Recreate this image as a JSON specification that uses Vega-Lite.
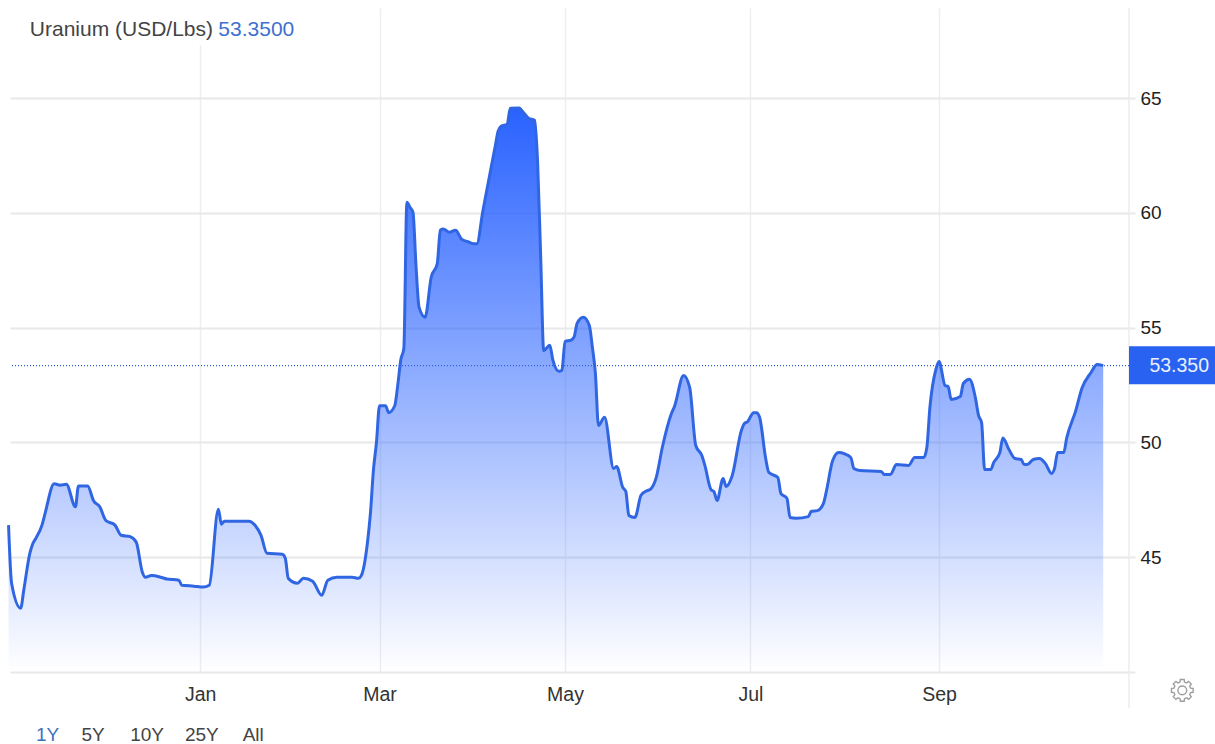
{
"$schema":"https://vega.github.io/schema/vega-lite/v6.json",
"width":1119,"height":664,
"autosize":{"type":"none"},
"padding":{"left":10,"top":8,"right":86,"bottom":72},
"background":"white",
"config":{"view":{"stroke":null},"font":"Liberation Sans"},
"datasets":{
"series":[
{"date":"2021-10-30","value":46.4},{"date":"2021-10-31","value":43.87},{"date":"2021-11-03","value":42.78},{"date":"2021-11-04","value":43.56},{"date":"2021-11-06","value":45.17},{"date":"2021-11-07","value":45.6},{"date":"2021-11-08","value":45.83},{"date":"2021-11-10","value":46.4},{"date":"2021-11-11","value":46.9},{"date":"2021-11-14","value":48.2},{"date":"2021-11-16","value":48.14},{"date":"2021-11-18","value":48.18},{"date":"2021-11-21","value":47.2},{"date":"2021-11-22","value":48.1},{"date":"2021-11-25","value":48.1},{"date":"2021-11-27","value":47.45},{"date":"2021-11-29","value":47.2},
{"date":"2021-12-01","value":46.6},{"date":"2021-12-04","value":46.4},{"date":"2021-12-06","value":45.96},{"date":"2021-12-09","value":45.9},{"date":"2021-12-11","value":45.65},{"date":"2021-12-13","value":44.35},{"date":"2021-12-14","value":44.13},{"date":"2021-12-16","value":44.2},{"date":"2021-12-19","value":44.13},{"date":"2021-12-21","value":44.05},{"date":"2021-12-25","value":44.0},{"date":"2021-12-26","value":43.78},{"date":"2021-12-30","value":43.74},
{"date":"2022-01-02","value":43.7},{"date":"2022-01-04","value":43.78},{"date":"2022-01-07","value":47.09},{"date":"2022-01-08","value":46.44},{"date":"2022-01-09","value":46.57},{"date":"2022-01-17","value":46.57},{"date":"2022-01-19","value":46.4},{"date":"2022-01-21","value":45.96},{"date":"2022-01-23","value":45.17},{"date":"2022-01-28","value":45.13},{"date":"2022-01-29","value":44.96},{"date":"2022-01-30","value":44.08},
{"date":"2022-02-02","value":43.87},{"date":"2022-02-04","value":44.08},{"date":"2022-02-07","value":43.95},{"date":"2022-02-10","value":43.34},{"date":"2022-02-12","value":44.0},{"date":"2022-02-15","value":44.13},{"date":"2022-02-20","value":44.13},{"date":"2022-02-22","value":44.08},{"date":"2022-02-23","value":44.2},{"date":"2022-02-25","value":45.6},{"date":"2022-02-26","value":46.9},{"date":"2022-02-27","value":48.8},
{"date":"2022-02-28","value":50.0},{"date":"2022-03-01","value":51.6},{"date":"2022-03-03","value":51.6},{"date":"2022-03-04","value":51.3},{"date":"2022-03-06","value":51.6},{"date":"2022-03-07","value":52.5},{"date":"2022-03-08","value":53.6},{"date":"2022-03-09","value":54.1},{"date":"2022-03-10","value":60.47},{"date":"2022-03-11","value":60.25},{"date":"2022-03-12","value":60.03},{"date":"2022-03-13","value":57.7},{"date":"2022-03-14","value":55.9},{"date":"2022-03-16","value":55.46},{"date":"2022-03-18","value":57.2},{"date":"2022-03-20","value":57.8},{"date":"2022-03-21","value":59.25},{"date":"2022-03-22","value":59.3},{"date":"2022-03-24","value":59.16},{"date":"2022-03-26","value":59.25},{"date":"2022-03-28","value":58.86},{"date":"2022-03-30","value":58.75},
{"date":"2022-04-01","value":58.66},{"date":"2022-04-02","value":58.66},{"date":"2022-04-04","value":60.1},{"date":"2022-04-08","value":62.87},{"date":"2022-04-09","value":63.56},{"date":"2022-04-10","value":63.78},{"date":"2022-04-12","value":63.87},{"date":"2022-04-13","value":64.56},{"date":"2022-04-16","value":64.57},{"date":"2022-04-17","value":64.43},{"date":"2022-04-19","value":64.13},{"date":"2022-04-21","value":64.04},{"date":"2022-04-22","value":62.17},{"date":"2022-04-23","value":58.1},{"date":"2022-04-24","value":54.0},{"date":"2022-04-26","value":54.24},{"date":"2022-04-27","value":53.6},{"date":"2022-04-29","value":53.1},{"date":"2022-04-30","value":53.15},
{"date":"2022-05-01","value":54.4},{"date":"2022-05-03","value":54.46},{"date":"2022-05-04","value":54.6},{"date":"2022-05-05","value":55.2},{"date":"2022-05-07","value":55.46},{"date":"2022-05-09","value":55.1},{"date":"2022-05-10","value":54.15},{"date":"2022-05-11","value":53.0},{"date":"2022-05-12","value":50.74},{"date":"2022-05-14","value":51.1},{"date":"2022-05-17","value":48.87},{"date":"2022-05-18","value":48.95},{"date":"2022-05-20","value":48.04},{"date":"2022-05-21","value":47.86},{"date":"2022-05-22","value":46.82},{"date":"2022-05-24","value":46.73},{"date":"2022-05-26","value":47.7},{"date":"2022-05-28","value":47.9},{"date":"2022-05-29","value":47.95},{"date":"2022-05-31","value":48.47},
{"date":"2022-06-02","value":49.78},{"date":"2022-06-05","value":51.26},{"date":"2022-06-06","value":51.57},{"date":"2022-06-09","value":52.92},{"date":"2022-06-11","value":52.4},{"date":"2022-06-13","value":49.87},{"date":"2022-06-15","value":49.43},{"date":"2022-06-16","value":49.0},{"date":"2022-06-18","value":47.95},{"date":"2022-06-19","value":47.86},{"date":"2022-06-20","value":47.47},{"date":"2022-06-22","value":48.43},{"date":"2022-06-23","value":48.08},{"date":"2022-06-25","value":48.56},{"date":"2022-06-28","value":50.52},{"date":"2022-06-29","value":50.83},{"date":"2022-06-30","value":50.9},
{"date":"2022-07-02","value":51.3},{"date":"2022-07-03","value":51.3},{"date":"2022-07-04","value":51.1},{"date":"2022-07-06","value":49.3},{"date":"2022-07-07","value":48.7},{"date":"2022-07-10","value":48.47},{"date":"2022-07-11","value":47.78},{"date":"2022-07-13","value":47.56},{"date":"2022-07-14","value":46.73},{"date":"2022-07-16","value":46.7},{"date":"2022-07-20","value":46.77},{"date":"2022-07-21","value":47.0},{"date":"2022-07-23","value":47.03},{"date":"2022-07-25","value":47.35},{"date":"2022-07-26","value":47.9},{"date":"2022-07-28","value":49.2},{"date":"2022-07-30","value":49.56},
{"date":"2022-08-01","value":49.5},{"date":"2022-08-03","value":49.34},{"date":"2022-08-04","value":48.87},{"date":"2022-08-06","value":48.78},{"date":"2022-08-13","value":48.74},{"date":"2022-08-14","value":48.6},{"date":"2022-08-16","value":48.6},{"date":"2022-08-18","value":49.04},{"date":"2022-08-22","value":49.0},{"date":"2022-08-24","value":49.35},{"date":"2022-08-27","value":49.35},{"date":"2022-08-28","value":49.78},{"date":"2022-08-29","value":51.53},{"date":"2022-08-31","value":53.2},
{"date":"2022-09-01","value":53.53},{"date":"2022-09-03","value":52.48},{"date":"2022-09-04","value":52.44},{"date":"2022-09-05","value":51.87},{"date":"2022-09-08","value":52.0},{"date":"2022-09-09","value":52.57},{"date":"2022-09-11","value":52.75},{"date":"2022-09-13","value":51.92},{"date":"2022-09-14","value":51.18},{"date":"2022-09-15","value":50.87},{"date":"2022-09-16","value":48.82},{"date":"2022-09-18","value":48.82},{"date":"2022-09-19","value":49.13},{"date":"2022-09-21","value":49.56},{"date":"2022-09-22","value":50.2},{"date":"2022-09-24","value":49.69},{"date":"2022-09-26","value":49.3},{"date":"2022-09-28","value":49.26},{"date":"2022-09-29","value":49.04},{"date":"2022-09-30","value":49.04},
{"date":"2022-10-02","value":49.26},{"date":"2022-10-04","value":49.3},{"date":"2022-10-06","value":49.08},{"date":"2022-10-08","value":48.65},{"date":"2022-10-09","value":48.87},{"date":"2022-10-10","value":49.56},{"date":"2022-10-12","value":49.56},{"date":"2022-10-13","value":50.2},{"date":"2022-10-16","value":51.4},{"date":"2022-10-18","value":52.36},{"date":"2022-10-21","value":53.05},{"date":"2022-10-23","value":53.4},{"date":"2022-10-25","value":53.35}
],
"ranges":[{"label":"1Y","date":"2021-11-08","active":"yes"},{"label":"5Y","date":"2021-11-23","active":"no"},{"label":"10Y","date":"2021-12-09","active":"no"},{"label":"25Y","date":"2021-12-27","active":"no"},{"label":"All","date":"2022-01-15","active":"no"}]
},
"data":{"name":"series"},
"layer":[
{"mark":{"type":"area","line":false,"interpolate":"monotone","color":{"gradient":"linear","x1":1,"y1":0,"x2":1,"y2":1,"stops":[{"offset":0,"color":"#2962ff"},{"offset":1,"color":"rgba(41,98,255,0)"}]}},
"encoding":{
"x":{"field":"date","type":"temporal","title":null,
"scale":{"type":"utc","nice":false,"domain":[1635593400000,1667388600000]},
"axis":{"orient":"bottom","values":[1640995200000,1646092800000,1651363200000,1656633600000,1661990400000],"labelExpr":"utcFormat(datum.value,'%b')","labelFontSize":19.5,"labelColor":"#333333","labelPadding":13,"labelFont":"Liberation Sans","labelOverlap":false,"tickSize":0,"domain":false,"grid":true,"gridColor":"#eeeeee","gridWidth":1.5,"labelFlush":false}},
"y":{"field":"value","type":"quantitative","title":null,
"scale":{"domain":[40,68.93],"zero":false,"nice":false},
"axis":{"orient":"right","values":[40,45,50,55,60,65],"labelExpr":"datum.value==40?'':datum.label","labelFontSize":19,"labelColor":"#222222","labelPadding":5,"labelFont":"Liberation Sans","tickSize":6,"tickColor":"#e8e8e8","tickWidth":2,"domain":false,"grid":true,"gridColor":"#e8e8e8","gridWidth":2}},
"y2":{"datum":40}
}},
{"mark":{"type":"line","color":"#3066e2","strokeWidth":3,"strokeJoin":"round","interpolate":"monotone"},"encoding":{"x":{"field":"date","type":"temporal"},"y":{"field":"value","type":"quantitative"}}},
{"data":{"values":[{"title":"Uranium (USD/Lbs)"}]},"mark":{"type":"rect","color":"white"},"encoding":{"x":{"datum":{"year":2021,"month":"dec","date":25,"utc":true},"type":"temporal"},"x2":{"datum":{"year":2022,"month":"jan","date":20,"utc":true}},"y":{"datum":68.93,"type":"quantitative"},"y2":{"datum":67.32}}},
{"data":{"values":[{"line":"last"}]},"mark":{"type":"rule","color":"#ececec","strokeWidth":1.5,"clip":false},"encoding":{"x":{"datum":1667388600000,"type":"temporal"},"y":{"datum":68.93,"type":"quantitative"},"y2":{"datum":38.43}}},
{"data":{"values":[{"line":"last"}]},"mark":{"type":"rule","color":"#2a5fd8","strokeWidth":1.2,"strokeDash":[1,2]},"encoding":{"y":{"datum":53.35,"type":"quantitative"}}},
{"data":{"values":[{"line":"last"}]},"mark":{"type":"rect","color":"#2962f0","clip":false},"encoding":{"x":{"datum":1667388600000,"type":"temporal"},"x2":{"datum":{"year":2022,"month":"dec","date":2,"utc":true}},"y":{"datum":54.19,"type":"quantitative"},"y2":{"datum":52.54}}},
{"data":{"values":[{"t":"53.350"}]},"mark":{"type":"text","color":"#e8efff","fontSize":19.5,"align":"center","baseline":"middle","clip":false},"encoding":{"text":{"field":"t"},"x":{"datum":{"year":2022,"month":"nov","date":19,"utc":true},"type":"temporal"},"y":{"datum":53.35,"type":"quantitative"}}},
{"data":{"values":[{"t":"Uranium (USD/Lbs)"}]},"mark":{"type":"text","color":"#444444","fontSize":21,"align":"left","baseline":"middle","dx":3},"encoding":{"text":{"field":"t"},"x":{"datum":{"year":2021,"month":"nov","date":5,"utc":true},"type":"temporal"},"y":{"datum":67.96,"type":"quantitative"}}},
{"data":{"values":[{"t":"53.3500"}]},"mark":{"type":"text","color":"#3f6fd0","fontSize":21,"align":"left","baseline":"middle"},"encoding":{"text":{"field":"t"},"x":{"datum":{"year":2022,"month":"jan","date":7,"utc":true},"type":"temporal"},"y":{"datum":67.96,"type":"quantitative"}}},
{"data":{"name":"ranges"},"mark":{"type":"text","fontSize":19,"align":"left","baseline":"middle","clip":false},"encoding":{"text":{"field":"label"},"x":{"field":"date","type":"temporal"},"y":{"datum":37.24,"type":"quantitative"},"color":{"field":"active","type":"nominal","legend":null,"scale":{"domain":["yes","no"],"range":["#3f6fc0","#444444"]}}}},
{"data":{"values":[{"icon":"settings"}]},"mark":{"type":"point","filled":false,"clip":false,"size":484,"stroke":"#777777","strokeWidth":1.4,"shape":"M.174 -.985L.202 -.753L.39 -.675L.574 -.819L.819 -.574L.675 -.39L.753 -.202L.985 -.174L.985 .174L.753 .202L.675 .39L.819 .574L.574 .819L.39 .675L.202 .753L.174 .985L-.174 .985L-.202 .753L-.39 .675L-.574 .819L-.819 .574L-.675 .39L-.753 .202L-.985 .174L-.985 -.174L-.753 -.202L-.675 -.39L-.819 -.574L-.574 -.819L-.39 -.675L-.202 -.753L-.174 -.985ZM.4 0A.4 .4 0 1 1 -.4 0A.4 .4 0 1 1 .4 0Z"},"encoding":{"x":{"datum":{"year":2022,"month":"nov","date":20,"utc":true},"type":"temporal"},"y":{"datum":39.2,"type":"quantitative"}}}
]
}
